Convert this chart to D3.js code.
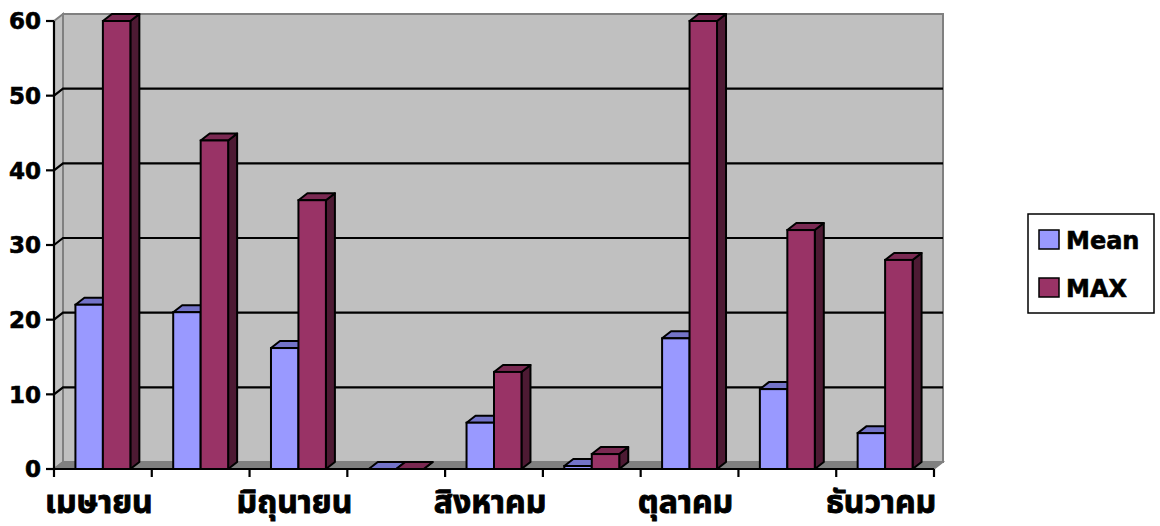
<!DOCTYPE html>
<html>
<head>
<meta charset="utf-8">
<script src="https://cdn.jsdelivr.net/npm/d3@7"></script>
<style>
  html, body { margin: 0; padding: 0; background: #fff; }
  svg { display: block; }
  .num { font-family: "DejaVu Sans", sans-serif; font-weight: bold; font-size: 23px; fill: #000; stroke: #000; stroke-width: 0.6px; }
  .cat { font-family: "Noto Sans Thai", "Tahoma", "Loma", "Garuda", "DejaVu Sans", sans-serif; font-weight: bold; font-size: 32px; fill: #000; stroke: #000; stroke-width: 0.9px; }
  .leg { font-family: "DejaVu Sans", sans-serif; font-weight: bold; font-size: 24px; fill: #000; stroke: #000; stroke-width: 0.6px; }
</style>
</head>
<body>
<svg id="chart" width="1160" height="526"></svg>
<script>
// Monthly rainfall summary (April - December)
const months = ["เมษายน", "พฤษภาคม", "มิถุนายน", "กรกฎาคม", "สิงหาคม", "กันยายน", "ตุลาคม", "พฤศจิกายน", "ธันวาคม"];
const seriesNames = ["Mean", "MAX"];
const meanValues = [22, 21, 16.2, 0, 6.2, 0.4, 17.5, 10.7, 4.8];
const maxValues = [60, 44, 36, 0, 13, 2, 60, 32, 28];
const yTicks = [0, 10, 20, 30, 40, 50, 60];
const labelledMonths = [0, 2, 4, 6, 8];

const faces = {
  Mean: { front: "#9999FF", top: "#7373C8", side: "#4D4D99" },
  MAX:  { front: "#993366", top: "#7A2952", side: "#4D1A33" }
};

const svg = d3.select("#chart");

// 3-D depth offset of the walls and the columns
const DX = 9, DY = -7;

const x0 = 54, x1 = 934;
const y = d3.scaleLinear().domain([0, 60]).range([469, 21]);
const x = d3.scaleBand().domain(d3.range(months.length)).range([x0, x1]);
const xs = d3.scaleBand().domain(seriesNames).range([0, x.bandwidth()])
  .paddingInner(0).paddingOuter(0.78);

const poly = pts => pts.map(p => p.join(",")).join(" ");
const yb = y(0);

// back wall
svg.append("rect")
  .attr("x", x0 + DX).attr("y", y(60) + DY)
  .attr("width", x1 - x0).attr("height", yb - y(60))
  .attr("fill", "#C0C0C0").attr("stroke", "#808080").attr("stroke-width", 2);

// side wall
svg.append("polygon")
  .attr("points", poly([[x0, y(60)], [x0 + DX, y(60) + DY], [x0 + DX, yb + DY], [x0, yb]]))
  .attr("fill", "#C0C0C0").attr("stroke", "#808080").attr("stroke-width", 2);

// floor
svg.append("polygon")
  .attr("points", poly([[x0, yb], [x1, yb], [x1 + DX, yb + DY], [x0 + DX, yb + DY]]))
  .attr("fill", "#808080").attr("stroke", "#808080").attr("stroke-width", 1.5);

// gridlines on the walls
const grid = yTicks.filter(v => v > 0 && v < 60);
svg.append("g").selectAll("path").data(grid).join("path")
  .attr("d", v => `M${x0},${y(v)}L${x0 + DX},${y(v) + DY}L${x1 + DX},${y(v) + DY}`)
  .attr("fill", "none").attr("stroke", "#000").attr("stroke-width", 2.2);

// columns
const data = [];
months.forEach((m, i) => {
  data.push({ i, s: "Mean", v: meanValues[i] });
  data.push({ i, s: "MAX", v: maxValues[i] });
});

const bars = svg.append("g").selectAll("g").data(data).join("g");
bars.each(function (d) {
  const g = d3.select(this);
  const bx = x(d.i) + xs(d.s), bw = xs.bandwidth();
  const top = y(d.v);
  const c = faces[d.s];
  g.append("polygon")
    .attr("points", poly([[bx + bw, top], [bx + bw + DX, top + DY], [bx + bw + DX, yb + DY], [bx + bw, yb]]))
    .attr("fill", c.side).attr("stroke", "#000").attr("stroke-width", 2).attr("stroke-linejoin", "round");
  g.append("polygon")
    .attr("points", poly([[bx, top], [bx + DX, top + DY], [bx + bw + DX, top + DY], [bx + bw, top]]))
    .attr("fill", c.top).attr("stroke", "#000").attr("stroke-width", 2).attr("stroke-linejoin", "round");
  g.append("rect")
    .attr("x", bx).attr("y", top).attr("width", bw).attr("height", yb - top)
    .attr("fill", c.front).attr("stroke", "#000").attr("stroke-width", 2);
});

// value axis
svg.append("line").attr("x1", x0).attr("x2", x0).attr("y1", y(60)).attr("y2", yb)
  .attr("stroke", "#000").attr("stroke-width", 2.2);
const yt = svg.append("g").selectAll("g").data(yTicks).join("g");
yt.append("line").attr("x1", x0 - 8).attr("x2", x0).attr("y1", d => y(d)).attr("y2", d => y(d))
  .attr("stroke", "#000").attr("stroke-width", 2.2);
yt.append("text").attr("class", "num").attr("x", 41).attr("y", d => y(d))
  .attr("dy", "0.36em").attr("text-anchor", "end").text(d => d);

// category axis
svg.append("line").attr("x1", x0).attr("x2", x1).attr("y1", yb).attr("y2", yb)
  .attr("stroke", "#000").attr("stroke-width", 2.2);
const bounds = d3.range(months.length + 1).map(i => x0 + i * x.step());
svg.append("g").selectAll("line").data(bounds).join("line")
  .attr("x1", d => d).attr("x2", d => d).attr("y1", yb).attr("y2", yb + 8)
  .attr("stroke", "#000").attr("stroke-width", 2.2);
svg.append("g").selectAll("text").data(labelledMonths).join("text")
  .attr("class", "cat").attr("x", i => x(i) + x.bandwidth() / 2 - 4).attr("y", 513)
  .attr("text-anchor", "middle").text(i => months[i]);

// legend
const lg = svg.append("g");
lg.append("rect").attr("x", 1028).attr("y", 214).attr("width", 126).attr("height", 99)
  .attr("fill", "#fff").attr("stroke", "#000").attr("stroke-width", 1.5);
seriesNames.forEach((s, k) => {
  const ly = 230 + k * 48;
  lg.append("rect").attr("x", 1039).attr("y", ly).attr("width", 20).attr("height", 19)
    .attr("fill", faces[s].front).attr("stroke", "#000").attr("stroke-width", 1.5);
  lg.append("text").attr("class", "leg").attr("x", 1066).attr("y", ly + 19).text(s);
});
</script>
</body>
</html>
